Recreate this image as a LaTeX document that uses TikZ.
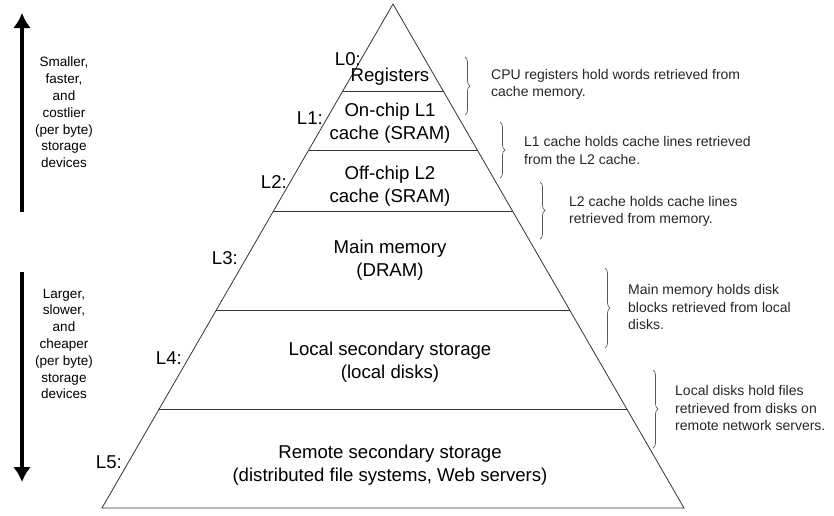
\documentclass[tikz,border=0pt]{standalone}
\usepackage{fontspec}
\setmainfont{Liberation Sans}
\usepackage{tikz}
\usetikzlibrary{calc,arrows.meta,decorations.pathreplacing}

\begin{document}
\begin{tikzpicture}[x=1pt,y=-1pt,
    lvl/.style={align=center,font=\fontsize{18.6}{23}\selectfont,inner sep=0pt},
    tag/.style={anchor=east,font=\fontsize{18.6}{22}\selectfont,inner sep=0pt},
    note/.style={anchor=west,align=left,font=\fontsize{14}{17.2}\selectfont,inner sep=0pt,text=black!85},
    side/.style={align=center,font=\fontsize{13.5}{16.8}\selectfont,inner sep=0pt},
    brc/.style={decorate,decoration={brace,amplitude=5pt},black!65,line width=0.7pt},
    big/.style={line width=4pt,-{Latex[length=15pt,width=18pt]}}]
                      \useasboundingbox (0,0) rectangle (834,515);
                      % pyramid
                      \coordinate (top) at (393,4);
                      \coordinate (bl) at (102,508);
                      \coordinate (br) at (684,508);
                      \draw[black!80,line width=0.8pt] (bl) -- (top) -- (br) -- cycle;
                      \foreach \t in {0.1726,0.2897,0.4107,0.6071,0.8036}
                        \draw[black!80,line width=0.9pt] ($(top)!\t!(bl)$) -- ($(top)!\t!(br)$);
                      % levels
                      \node[lvl](reg)at(390,76.5){Registers};
                      \node[lvl](onchip)at(390,123.5){On-chip L1\\cache (SRAM)};
                      \node[lvl](offchip)at(390,186.5){Off-chip L2\\cache (SRAM)};
                      \node[lvl](dram)at(390,260){Main memory\\(DRAM)};
                      \node[lvl](local)at(390,362){Local secondary storage\\(local disks)};
                      \node[lvl](remote)at(390,465){Remote secondary storage\\(distributed file systems, Web servers)};
                      \node[tag](t0)at(361,59){L0:};
                      \node[tag](t1)at(323,118){L1:};
                      \node[tag](t2)at(287,182){L2:};
                      \node[tag](t3)at(238,258){L3:};
                      \node[tag](t4)at(182,358){L4:};
                      \node[tag](t5)at(122,462){L5:};
                      % left side
                      \coordinate (ua) at (22,212);
                      \coordinate (ub) at (22,13);
                      \draw[big] (ua) -- (ub);
                      \coordinate (da) at (22,272);
                      \coordinate (db) at (22,482);
                      \draw[big] (da) -- (db);
                      \node[side](fast)at(64,112.5){Smaller,\\faster,\\and\\costlier\\(per byte)\\storage\\devices};
                      \node[side](slow)at(64,344){Larger,\\slower,\\and\\cheaper\\(per byte)\\storage\\devices};
                      % right side
                      \coordinate (b0a) at (465,57);
                      \coordinate (b0b) at (465,115);
                      \draw[brc] (b0a) -- (b0b);
                      \node[note](n0)at(491,84){CPU registers hold words retrieved from\\cache memory.};
                      \coordinate (b1a) at (500,122);
                      \coordinate (b1b) at (500,178);
                      \draw[brc] (b1a) -- (b1b);
                      \node[note](n1)at(524,150.5){L1 cache holds cache lines retrieved\\from the L2 cache.};
                      \coordinate (b2a) at (540,182);
                      \coordinate (b2b) at (540,239);
                      \draw[brc] (b2a) -- (b2b);
                      \node[note](n2)at(569,211){L2 cache holds cache lines\\retrieved from memory.};
                      \coordinate (b3a) at (605,268);
                      \coordinate (b3b) at (605,348);
                      \draw[brc] (b3a) -- (b3b);
                      \node[note](n3)at(628,307){Main memory holds disk\\blocks retrieved from local\\disks.};
                      \coordinate (b4a) at (653,370);
                      \coordinate (b4b) at (653,448);
                      \draw[brc] (b4a) -- (b4b);
                      \node[note](n4)at(675,408){Local disks hold files\\retrieved from disks on\\remote network servers.};
                  \end{tikzpicture}
\end{document}
